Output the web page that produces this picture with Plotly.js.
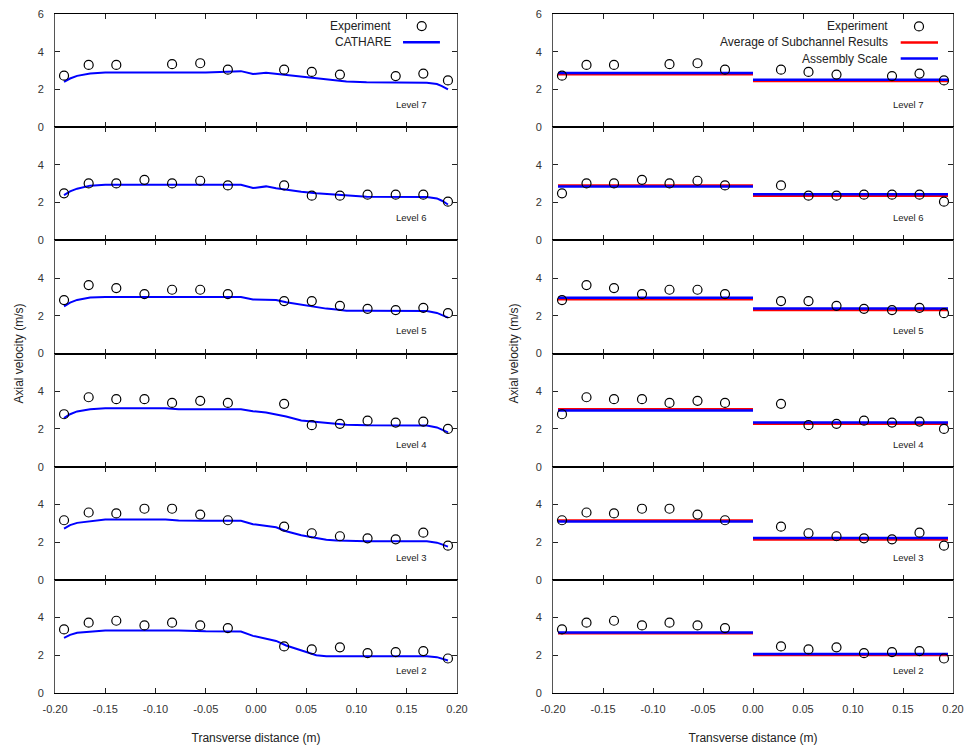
<!DOCTYPE html>
<html>
<head>
<meta charset="utf-8">
<script src="https://cdn.plot.ly/plotly-3.0.1.min.js"></script>
<style>html,body{margin:0;padding:0;background:#fff;}#plot{width:965px;height:747px;}</style>
</head>
<body>
<div id="plot"></div>
<script>
// ---------- DATA ----------
const levels = ['Level 7', 'Level 6', 'Level 5', 'Level 4', 'Level 3', 'Level 2'];

const expX = [-0.191, -0.1665, -0.139, -0.111, -0.0835, -0.0555, -0.028, 0.028, 0.0555, 0.0835, 0.111, 0.139, 0.1665, 0.191];
const expL7 = [2.73, 3.30, 3.30, null, 3.34, 3.39, 3.05, 3.05, 2.93, 2.79, null, 2.71, 2.84, 2.48];
const expL6 = [2.49, 3.02, 3.02, 3.21, 3.02, 3.16, 2.91, 2.91, 2.37, 2.37, 2.42, 2.42, 2.42, 2.05];
const expL5 = [2.83, 3.63, 3.47, 3.15, 3.38, 3.38, 3.15, 2.78, 2.78, 2.53, 2.37, 2.30, 2.42, 2.14];
const expL4 = [2.78, 3.68, 3.58, 3.58, 3.38, 3.49, 3.38, 3.33, 2.20, 2.27, 2.44, 2.34, 2.39, 2.00];
const expL3 = [3.16, 3.57, 3.52, 3.77, 3.77, 3.46, 3.16, 2.82, 2.47, 2.31, 2.20, 2.15, 2.50, 1.81];
const expL2 = [3.37, 3.73, 3.83, 3.58, 3.73, 3.58, 3.44, 2.47, 2.31, 2.42, 2.11, 2.17, 2.22, 1.83];

const cathX = [-0.191, -0.185, -0.178, -0.165, -0.15, -0.09, -0.077, -0.05, -0.015, -0.003, 0.01, 0.02, 0.03, 0.045, 0.06, 0.07, 0.08, 0.09, 0.11, 0.17, 0.18, 0.185, 0.191];
const cathL7 = [2.40, 2.58, 2.72, 2.85, 2.90, 2.90, 2.90, 2.90, 2.97, 2.82, 2.88, 2.82, 2.78, 2.66, 2.57, 2.52, 2.47, 2.42, 2.38, 2.36, 2.29, 2.18, 2.00];
const cathL6 = [2.40, 2.60, 2.74, 2.90, 2.95, 2.95, 2.95, 2.95, 2.95, 2.77, 2.86, 2.76, 2.68, 2.58, 2.50, 2.46, 2.42, 2.37, 2.31, 2.30, 2.22, 2.10, 1.90];
const cathL5 = [2.50, 2.70, 2.84, 2.97, 3.00, 3.00, 3.00, 3.00, 3.00, 2.86, 2.86, 2.84, 2.72, 2.58, 2.45, 2.38, 2.33, 2.27, 2.26, 2.25, 2.15, 2.05, 1.90];
const cathL4 = [2.57, 2.78, 2.93, 3.05, 3.10, 3.10, 3.04, 3.04, 3.04, 2.94, 2.87, 2.77, 2.66, 2.45, 2.38, 2.32, 2.26, 2.22, 2.19, 2.18, 2.08, 1.97, 1.82];
const cathL3 = [2.72, 2.90, 3.02, 3.11, 3.20, 3.20, 3.14, 3.13, 3.13, 2.95, 2.84, 2.79, 2.58, 2.36, 2.22, 2.13, 2.09, 2.06, 2.04, 2.04, 1.97, 1.88, 1.76];
const cathL2 = [2.92, 3.08, 3.19, 3.26, 3.32, 3.32, 3.32, 3.27, 3.26, 3.03, 2.86, 2.76, 2.52, 2.24, 2.00, 1.95, 1.95, 1.95, 1.95, 1.95, 1.90, 1.83, 1.72];

// step segments: [-0.195, 0] and [0, 0.195]
const segLeftX = [-0.195, 0.0];
const segRightX = [0.0, 0.195];
// [left half, right half] per level
const avgSub = [[2.80, 2.45], [2.91, 2.37], [2.88, 2.31], [3.05, 2.27], [3.15, 2.14], [3.17, 2.01]];
const assembly = [[2.87, 2.51], [2.85, 2.44], [2.95, 2.38], [2.98, 2.34], [3.09, 2.22], [3.21, 2.07]];

const xTickVals = [-0.20, -0.15, -0.10, -0.05, 0.00, 0.05, 0.10, 0.15, 0.20];
const xTickText = ['-0.20', '-0.15', '-0.10', '-0.05', '0.00', '0.05', '0.10', '0.15', '0.20'];

const expAll = [expL7, expL6, expL5, expL4, expL3, expL2];
const cathAll = [cathL7, cathL6, cathL5, cathL4, cathL3, cathL2];

// ---------- BUILD ----------
const FONT = 'Liberation Sans, Arial, sans-serif';
const BLUE = '#0000ff';
const RED = '#ff0000';
const traces = [];
const layout = {
  width: 965, height: 747,
  margin: {l: 55, r: 12, t: 14, b: 54},
  paper_bgcolor: '#fff', plot_bgcolor: '#fff',
  showlegend: false, hovermode: false,
  font: {family: FONT, size: 11, color: '#222'},
  annotations: [], shapes: []
};
const colDom = [[0, 402 / 898], [498 / 898, 1]];

function ax(n) { return n === 1 ? '' : String(n); }

for (let c = 0; c < 2; c++) {
  for (let k = 0; k < 6; k++) {
    const n = c * 6 + k + 1;
    const xa = 'x' + ax(n), ya = 'y' + ax(n);
    const dom = [1 - (k + 1) / 6, 1 - k / 6];
    const bottom = (k === 5);
    layout['xaxis' + ax(n)] = {
      domain: colDom[c], anchor: ya, range: [-0.2, 0.2],
      tickmode: 'array', tickvals: xTickVals, ticktext: xTickText,
      showticklabels: bottom, ticks: 'inside', ticklen: 5, tickcolor: '#222', tickwidth: 1,
      showline: true, linecolor: '#000', linewidth: 1, mirror: 'ticks',
      showgrid: false, zeroline: false, fixedrange: true,
      ticklabelstandoff: 6,
      tickfont: {family: FONT, size: 11, color: '#333'},
      title: bottom ? {text: 'Transverse distance (m)', font: {family: FONT, size: 12, color: '#222'}, standoff: 19} : {text: ''}
    };
    layout['yaxis' + ax(n)] = {
      domain: dom, anchor: xa, range: [0, 6],
      tickmode: 'array', tickvals: k === 0 ? [0, 2, 4, 6] : [0, 2, 4],
      ticks: 'inside', ticklen: 5, tickcolor: '#222', tickwidth: 1,
      showline: true, linecolor: '#555', linewidth: 1, mirror: 'ticks',
      showgrid: false, zeroline: false, fixedrange: true,
      ticklabelstandoff: 8,
      tickfont: {family: FONT, size: 11, color: '#333'}
    };

    if (c === 0) {
      traces.push({x: cathX, y: cathAll[k], xaxis: xa, yaxis: ya, type: 'scatter', mode: 'lines',
        line: {color: BLUE, width: 2}});
    } else {
      traces.push({x: segLeftX.concat([null], segRightX), y: [avgSub[k][0], avgSub[k][0], null, avgSub[k][1], avgSub[k][1]],
        xaxis: xa, yaxis: ya, type: 'scatter', mode: 'lines', line: {color: RED, width: 2.5}});
      traces.push({x: segLeftX.concat([null], segRightX), y: [assembly[k][0], assembly[k][0], null, assembly[k][1], assembly[k][1]],
        xaxis: xa, yaxis: ya, type: 'scatter', mode: 'lines', line: {color: BLUE, width: 2.5}});
    }
    traces.push({x: expX, y: expAll[k], xaxis: xa, yaxis: ya, type: 'scatter', mode: 'markers',
      marker: {symbol: 'circle-open', size: 9, color: '#000', line: {width: 1.2, color: '#000'}}});

    layout.annotations.push({xref: xa, yref: ya, x: 0.155, y: 1.2, text: levels[k], showarrow: false,
      font: {family: FONT, size: 9.5, color: '#222'}, xanchor: 'center', yanchor: 'middle'});
  }
}

// y titles
layout.annotations.push({xref: 'paper', yref: 'paper', x: -37 / 898, y: 0.5, text: 'Axial velocity (m/s)', textangle: -90,
  showarrow: false, font: {family: FONT, size: 12, color: '#222'}, xanchor: 'center', yanchor: 'middle'});
layout.annotations.push({xref: 'paper', yref: 'paper', x: (513 - 55) / 898, y: 0.5, text: 'Axial velocity (m/s)', textangle: -90,
  showarrow: false, font: {family: FONT, size: 12, color: '#222'}, xanchor: 'center', yanchor: 'middle'});

// legends (left panel top: x/y ; right panel top: x7/y7)
function legText(xa, ya, x, y, t) {
  layout.annotations.push({xref: xa, yref: ya, x: x, y: y, text: t, showarrow: false, xanchor: 'right', yanchor: 'middle',
    font: {family: FONT, size: 12, color: '#222'}});
}
function legLine(xa, ya, x0, x1, y, col) {
  layout.shapes.push({type: 'line', xref: xa, yref: ya, x0: x0, x1: x1, y0: y, y1: y, line: {color: col, width: 2.5}});
}
function legCircle(xa, ya, x, y) {
  layout.shapes.push({type: 'circle', xref: xa, yref: ya, xsizemode: 'pixel', ysizemode: 'pixel', xanchor: x, yanchor: y,
    x0: -4.5, x1: 4.5, y0: -4.5, y1: 4.5, line: {color: '#000', width: 1.2}});
}
legText('x', 'y', 0.1363, 5.36, 'Experiment');
legCircle('x', 'y', 0.1649, 5.36);
legText('x', 'y', 0.1363, 4.5, 'CATHARE');
legLine('x', 'y', 0.1463, 0.183, 4.5, BLUE);

legText('x7', 'y7', 0.137, 5.34, 'Experiment');
legCircle('x7', 'y7', 0.166, 5.34);
legText('x7', 'y7', 0.137, 4.49, 'Average of Subchannel Results');
legLine('x7', 'y7', 0.1477, 0.185, 4.49, RED);
legText('x7', 'y7', 0.137, 3.64, 'Assembly Scale');
legLine('x7', 'y7', 0.1477, 0.185, 3.64, BLUE);

Plotly.newPlot('plot', traces, layout, {staticPlot: true, displayModeBar: false});
</script>
</body>
</html>
